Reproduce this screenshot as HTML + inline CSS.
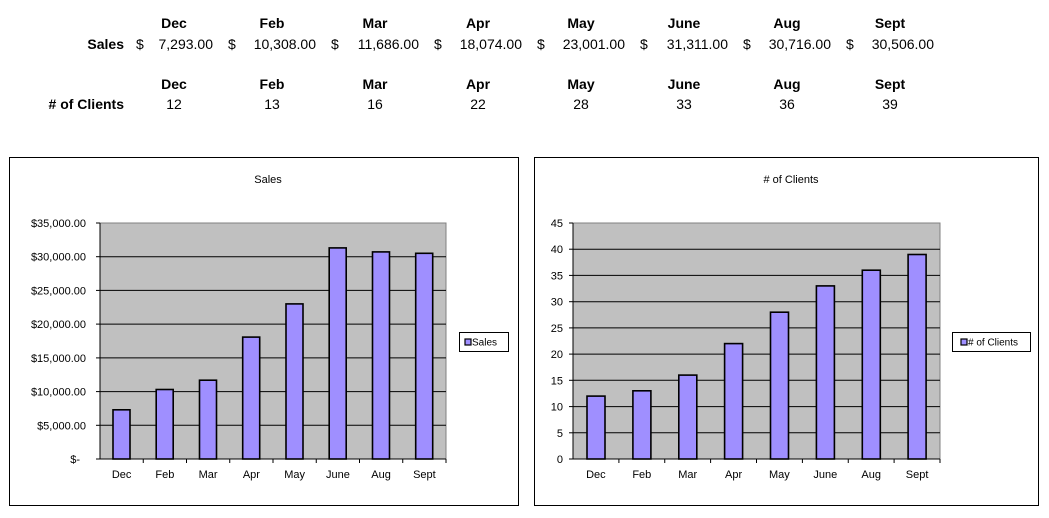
<!DOCTYPE html>
<html><head><meta charset="utf-8"><style>
html,body{margin:0;padding:0;background:#fff;}
svg{display:block;font-family:"Liberation Sans",Arial,sans-serif;}
</style></head><body>
<svg width="1049" height="518" viewBox="0 0 1049 518" xmlns="http://www.w3.org/2000/svg">
<g font-size="14" fill="#000">
<g font-weight="bold" text-anchor="middle">
<text x="174" y="28">Dec</text><text x="272" y="28">Feb</text><text x="375" y="28">Mar</text><text x="478" y="28">Apr</text><text x="581" y="28">May</text><text x="684" y="28">June</text><text x="787" y="28">Aug</text><text x="890" y="28">Sept</text>
<text x="174" y="89">Dec</text><text x="272" y="89">Feb</text><text x="375" y="89">Mar</text><text x="478" y="89">Apr</text><text x="581" y="89">May</text><text x="684" y="89">June</text><text x="787" y="89">Aug</text><text x="890" y="89">Sept</text>
</g>
<text x="124" y="49" font-weight="bold" text-anchor="end">Sales</text>
<text x="124" y="109" font-weight="bold" text-anchor="end"># of Clients</text>
<g text-anchor="start">
<text x="136" y="49">$</text><text x="228" y="49">$</text><text x="331" y="49">$</text><text x="434" y="49">$</text><text x="537" y="49">$</text><text x="640" y="49">$</text><text x="743" y="49">$</text><text x="846" y="49">$</text>
</g>
<g text-anchor="end">
<text x="213" y="49">7,293.00</text><text x="316" y="49">10,308.00</text><text x="419" y="49">11,686.00</text><text x="522" y="49">18,074.00</text><text x="625" y="49">23,001.00</text><text x="728" y="49">31,311.00</text><text x="831" y="49">30,716.00</text><text x="934" y="49">30,506.00</text>
</g>
<g text-anchor="middle">
<text x="174" y="109">12</text><text x="272" y="109">13</text><text x="375" y="109">16</text><text x="478" y="109">22</text><text x="581" y="109">28</text><text x="684" y="109">33</text><text x="787" y="109">36</text><text x="890" y="109">39</text>
</g>
</g>

<!-- Left chart -->
<rect x="9.5" y="157.5" width="509" height="348" fill="#fff" stroke="#000" stroke-width="1"/>
<text x="268" y="183" font-size="11" text-anchor="middle">Sales</text>
<rect x="100" y="223" width="346" height="236" fill="#c0c0c0" stroke="#808080" stroke-width="1"/>
<g stroke="#000" stroke-width="1">
<line x1="100" x2="446" y1="425.3" y2="425.3"/><line x1="100" x2="446" y1="391.6" y2="391.6"/><line x1="100" x2="446" y1="357.9" y2="357.9"/><line x1="100" x2="446" y1="324.1" y2="324.1"/><line x1="100" x2="446" y1="290.4" y2="290.4"/><line x1="100" x2="446" y1="256.7" y2="256.7"/>
</g>
<g fill="#9f8fff" stroke="#000" stroke-width="1.6">
<rect x="113" y="409.8" width="17" height="49.2"/><rect x="156.2" y="389.5" width="17" height="69.5"/><rect x="199.5" y="380.2" width="17" height="78.8"/><rect x="242.7" y="337.1" width="17" height="121.9"/><rect x="286" y="303.9" width="17" height="155.1"/><rect x="329.2" y="247.9" width="17" height="211.1"/><rect x="372.5" y="251.9" width="17" height="207.1"/><rect x="415.7" y="253.3" width="17" height="205.7"/>
</g>
<g stroke="#000" stroke-width="1">
<line x1="100" x2="100" y1="223" y2="459"/><line x1="96" x2="446" y1="459" y2="459"/>
<line x1="96" x2="100" y1="223" y2="223"/><line x1="96" x2="100" y1="256.7" y2="256.7"/><line x1="96" x2="100" y1="290.4" y2="290.4"/><line x1="96" x2="100" y1="324.1" y2="324.1"/><line x1="96" x2="100" y1="357.9" y2="357.9"/><line x1="96" x2="100" y1="391.6" y2="391.6"/><line x1="96" x2="100" y1="425.3" y2="425.3"/>
<line x1="143.25" x2="143.25" y1="459" y2="463"/><line x1="186.5" x2="186.5" y1="459" y2="463"/><line x1="229.75" x2="229.75" y1="459" y2="463"/><line x1="273" x2="273" y1="459" y2="463"/><line x1="316.25" x2="316.25" y1="459" y2="463"/><line x1="359.5" x2="359.5" y1="459" y2="463"/><line x1="402.75" x2="402.75" y1="459" y2="463"/><line x1="446" x2="446" y1="459" y2="463"/>
</g>
<g font-size="11" text-anchor="end">
<text x="86" y="227">$35,000.00</text><text x="86" y="260.7">$30,000.00</text><text x="86" y="294.4">$25,000.00</text><text x="86" y="328.1">$20,000.00</text><text x="86" y="361.9">$15,000.00</text><text x="86" y="395.6">$10,000.00</text><text x="86" y="429.3">$5,000.00</text><text x="80" y="463">$-</text>
</g>
<g font-size="11" text-anchor="middle">
<text x="121.6" y="478">Dec</text><text x="164.9" y="478">Feb</text><text x="208.1" y="478">Mar</text><text x="251.4" y="478">Apr</text><text x="294.6" y="478">May</text><text x="337.9" y="478">June</text><text x="381.1" y="478">Aug</text><text x="424.4" y="478">Sept</text>
</g>
<rect x="459.5" y="332.5" width="49" height="19" fill="#fff" stroke="#000"/>
<rect x="465" y="339" width="6" height="6" fill="#9f8fff" stroke="#000" stroke-width="1.2"/>
<text x="472" y="345.5" font-size="10">Sales</text>

<!-- Right chart -->
<rect x="534.5" y="157.5" width="504" height="348" fill="#fff" stroke="#000" stroke-width="1"/>
<text x="791" y="183" font-size="11" text-anchor="middle"># of Clients</text>
<rect x="573" y="223" width="367" height="236" fill="#c0c0c0" stroke="#808080" stroke-width="1"/>
<g stroke="#000" stroke-width="1">
<line x1="573" x2="940" y1="432.8" y2="432.8"/><line x1="573" x2="940" y1="406.6" y2="406.6"/><line x1="573" x2="940" y1="380.3" y2="380.3"/><line x1="573" x2="940" y1="354.1" y2="354.1"/><line x1="573" x2="940" y1="327.9" y2="327.9"/><line x1="573" x2="940" y1="301.7" y2="301.7"/><line x1="573" x2="940" y1="275.4" y2="275.4"/><line x1="573" x2="940" y1="249.2" y2="249.2"/>
</g>
<g fill="#9f8fff" stroke="#000" stroke-width="1.6">
<rect x="587" y="396.1" width="18" height="62.9"/><rect x="632.9" y="390.8" width="18" height="68.2"/><rect x="678.8" y="375.1" width="18" height="83.9"/><rect x="724.6" y="343.6" width="18" height="115.4"/><rect x="770.5" y="312.2" width="18" height="146.8"/><rect x="816.4" y="285.9" width="18" height="173.1"/><rect x="862.3" y="270.2" width="18" height="188.8"/><rect x="908.1" y="254.5" width="18" height="204.5"/>
</g>
<g stroke="#000" stroke-width="1">
<line x1="573" x2="573" y1="223" y2="459"/><line x1="569" x2="940" y1="459" y2="459"/>
<line x1="569" x2="573" y1="223" y2="223"/><line x1="569" x2="573" y1="249.2" y2="249.2"/><line x1="569" x2="573" y1="275.4" y2="275.4"/><line x1="569" x2="573" y1="301.7" y2="301.7"/><line x1="569" x2="573" y1="327.9" y2="327.9"/><line x1="569" x2="573" y1="354.1" y2="354.1"/><line x1="569" x2="573" y1="380.3" y2="380.3"/><line x1="569" x2="573" y1="406.6" y2="406.6"/><line x1="569" x2="573" y1="432.8" y2="432.8"/>
<line x1="618.9" x2="618.9" y1="459" y2="463"/><line x1="664.75" x2="664.75" y1="459" y2="463"/><line x1="710.6" x2="710.6" y1="459" y2="463"/><line x1="756.5" x2="756.5" y1="459" y2="463"/><line x1="802.4" x2="802.4" y1="459" y2="463"/><line x1="848.25" x2="848.25" y1="459" y2="463"/><line x1="894.1" x2="894.1" y1="459" y2="463"/><line x1="940" x2="940" y1="459" y2="463"/>
</g>
<g font-size="11" text-anchor="end">
<text x="563" y="227">45</text><text x="563" y="253.2">40</text><text x="563" y="279.4">35</text><text x="563" y="305.7">30</text><text x="563" y="331.9">25</text><text x="563" y="358.1">20</text><text x="563" y="384.3">15</text><text x="563" y="410.6">10</text><text x="563" y="436.8">5</text><text x="563" y="463">0</text>
</g>
<g font-size="11" text-anchor="middle">
<text x="595.9" y="478">Dec</text><text x="641.8" y="478">Feb</text><text x="687.7" y="478">Mar</text><text x="733.6" y="478">Apr</text><text x="779.4" y="478">May</text><text x="825.3" y="478">June</text><text x="871.2" y="478">Aug</text><text x="917.1" y="478">Sept</text>
</g>
<rect x="952.5" y="332.5" width="78" height="19" fill="#fff" stroke="#000"/>
<rect x="961" y="339" width="6" height="6" fill="#9f8fff" stroke="#000" stroke-width="1.2"/>
<text x="968" y="345.5" font-size="10"># of Clients</text>
</svg>
</body></html>
